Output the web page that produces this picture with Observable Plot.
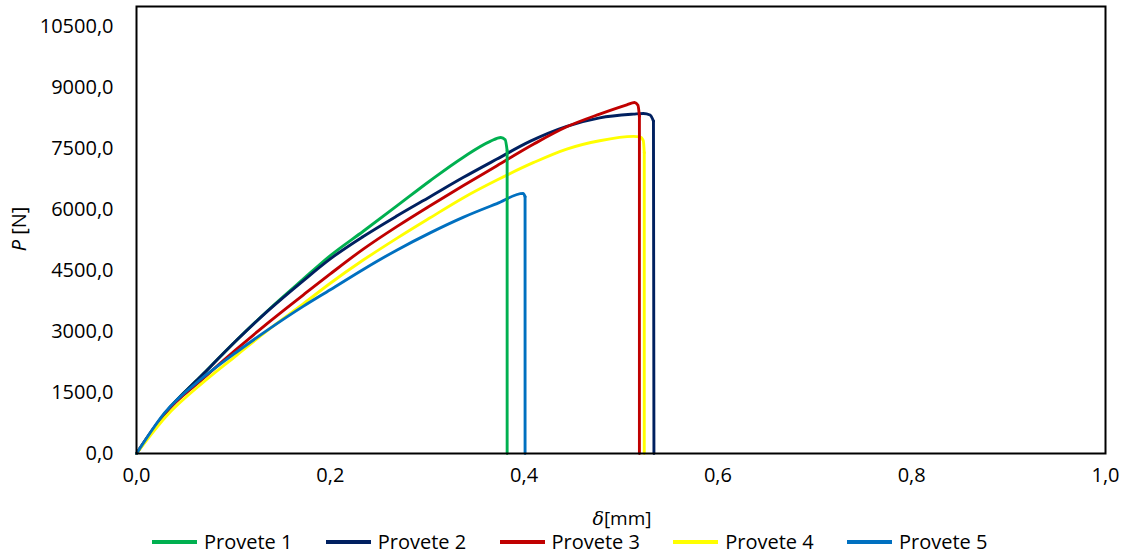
<!DOCTYPE html>
<html>
<head>
<meta charset="utf-8">
<script src="https://cdn.jsdelivr.net/npm/d3@7"></script>
<script src="https://cdn.jsdelivr.net/npm/@observablehq/plot@0.6"></script>
<style>
  html, body { margin: 0; padding: 0; background: #fff; }
  #wrap { position: relative; width: 1127px; height: 553px; font-family: "Open Sans", sans-serif; }
  #chart svg { overflow: visible; }
  #legend { position: absolute; left: 0; top: 530px; width: 1127px; height: 23px; }
  .item { position: absolute; top: 0; height: 23px; display: flex; align-items: center; font-size: 20px; line-height: 23px; color: #000; white-space: nowrap; }
  .sw { width: 45px; height: 4px; margin-right: 7px; }
</style>
</head>
<body>
<div id="wrap"><div id="chart"></div><div id="legend"></div></div>
<script>
const seriesNames = ["Provete 1", "Provete 2", "Provete 3", "Provete 4", "Provete 5"];
const seriesColors = ["#00B050", "#002060", "#C00000", "#FFFF00", "#0070C0"];

const p1x = [0, 0.029, 0.069, 0.103, 0.137, 0.172, 0.2, 0.234, 0.269, 0.303, 0.337, 0.365, 0.376, 0.3805, 0.3825, 0.3825];
const p1y = [0, 976, 1960, 2780, 3550, 4290, 4870, 5470, 6098, 6713, 7286, 7680, 7778, 7720, 7450, 0];

const p2x = [0, 0.029, 0.069, 0.103, 0.137, 0.172, 0.2, 0.234, 0.269, 0.303, 0.337, 0.372, 0.406, 0.444, 0.478, 0.513, 0.523, 0.530, 0.5335, 0.534];
const p2y = [0, 976, 1960, 2780, 3540, 4250, 4790, 5340, 5850, 6320, 6790, 7246, 7680, 8050, 8260, 8352, 8368, 8330, 8180, 0];

const p3x = [0, 0.029, 0.069, 0.103, 0.137, 0.172, 0.2, 0.234, 0.269, 0.303, 0.337, 0.372, 0.41, 0.444, 0.478, 0.506, 0.514, 0.5175, 0.519, 0.519];
const p3y = [0, 976, 1850, 2560, 3240, 3900, 4420, 5030, 5590, 6098, 6590, 7082, 7615, 8040, 8352, 8580, 8639, 8570, 8300, 0];

const p4x = [0, 0.03, 0.069, 0.103, 0.137, 0.172, 0.2, 0.234, 0.269, 0.303, 0.337, 0.372, 0.41, 0.444, 0.478, 0.513, 0.5195, 0.523, 0.524, 0.524];
const p4y = [0, 900, 1754, 2410, 3060, 3680, 4190, 4760, 5300, 5800, 6290, 6730, 7163, 7492, 7697, 7803, 7790, 7700, 7400, 0];

const p5x = [0, 0.029, 0.069, 0.103, 0.137, 0.172, 0.2, 0.234, 0.269, 0.303, 0.337, 0.372, 0.399, 0.401, 0.401];
const p5y = [0, 1000, 1877, 2492, 3066, 3620, 4030, 4530, 5010, 5430, 5811, 6150, 6401, 6320, 0];

const xTicks = [0, 0.2, 0.4, 0.6, 0.8, 1.0];
const yTicks = [0, 1500, 3000, 4500, 6000, 7500, 9000, 10500];

const allX = [p1x, p2x, p3x, p4x, p5x];
const allY = [p1y, p2y, p3y, p4y, p5y];
// rising part (smoothed) and final drop (straight) of each curve
const rising = [];
const drop = [];
allX.forEach((xs, i) => {
  const n = xs.length;
  xs.forEach((x, j) => {
    const d = {series: seriesNames[i], x, y: allY[i][j]};
    if (j < n - 1) rising.push(d);
    if (j >= n - 2) drop.push(d);
  });
});

const fmt = d => d.toFixed(1).replace(".", ",");

const chart = Plot.plot({
  width: 1127,
  height: 528,
  marginLeft: 136,
  marginRight: 22,
  marginTop: 6,
  marginBottom: 75,
  style: {fontFamily: "Open Sans, sans-serif", fontSize: "20px", color: "#000", background: "#fff", overflow: "visible"},
  x: {domain: [0, 1], ticks: xTicks, tickFormat: fmt, tickSize: 0, tickPadding: 14, label: null},
  y: {domain: [0, 11000], ticks: yTicks, tickFormat: fmt, tickSize: 0, tickPadding: 23, label: null},
  color: {domain: seriesNames, range: seriesColors},
  marks: [
    Plot.line(rising, {x: "x", y: "y", z: "series", stroke: "series", strokeWidth: 2.9, strokeLinejoin: "round", strokeLinecap: "round", curve: "monotone-x"}),
    Plot.line(drop, {x: "x", y: "y", z: "series", stroke: "series", strokeWidth: 2.9, strokeLinejoin: "round", strokeLinecap: "round", curve: "linear"}),
    Plot.frame({stroke: "#000", strokeWidth: 2})
  ]
});
document.getElementById("chart").appendChild(chart);

const svg = d3.select(chart);
// y label
svg.append("text")
  .attr("transform", "translate(26,229) rotate(-90)")
  .attr("text-anchor", "middle")
  .attr("font-family", "Open Sans, sans-serif")
  .attr("font-size", 20)
  .attr("fill", "#000")
  .call(t => {
    t.append("tspan").attr("font-style", "italic").text("P");
    t.append("tspan").text(" [N]");
  });
// x label
svg.append("text")
  .attr("x", 622).attr("y", 525)
  .attr("text-anchor", "middle")
  .attr("font-size", 19)
  .attr("fill", "#000")
  .call(t => {
    t.append("tspan").attr("font-family", "DejaVu Serif, serif").attr("font-style", "italic").text("δ");
    t.append("tspan").attr("font-family", "Open Sans, sans-serif").text("[mm]");
  });

const legend = document.getElementById("legend");
seriesNames.forEach((name, i) => {
  const it = document.createElement("div");
  it.className = "item";
  it.style.left = (152 + i * 173.75) + "px";
  const sw = document.createElement("div");
  sw.className = "sw";
  sw.style.background = seriesColors[i];
  const tx = document.createElement("span");
  tx.textContent = name;
  it.appendChild(sw); it.appendChild(tx);
  legend.appendChild(it);
});
</script>
</body>
</html>
